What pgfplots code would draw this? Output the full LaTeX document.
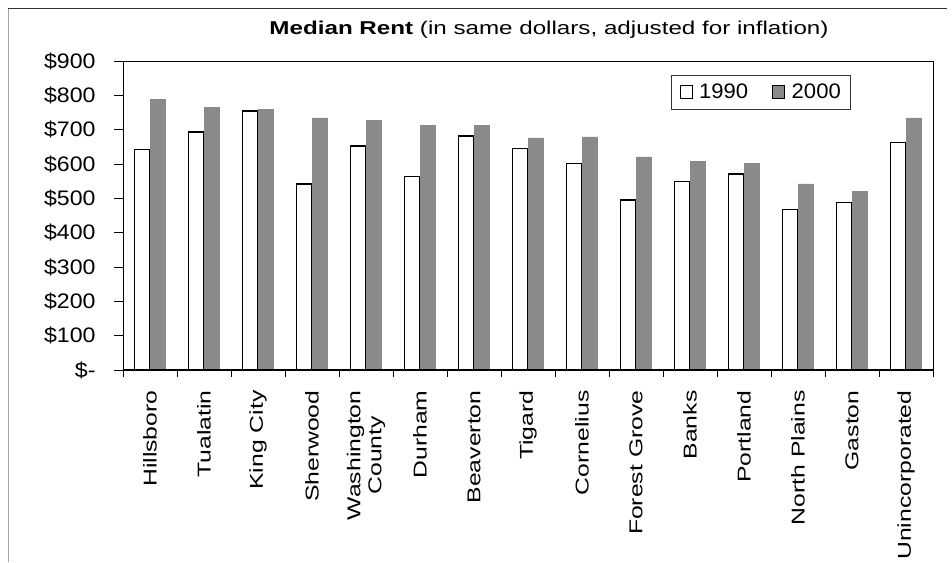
\documentclass[border=0pt]{standalone}
\usepackage{fontspec}
\setmainfont{Liberation Sans}
\newfontfamily\titlefont[FakeStretch=1.3]{Liberation Sans}
\newfontfamily\catfont[FakeStretch=1.33]{Liberation Sans}
\newfontfamily\tickfont[FakeStretch=1.1]{Liberation Sans}
\newfontfamily\legfont[FakeStretch=1.05]{Liberation Sans}
\usepackage{pgfplots}
\pgfplotsset{compat=1.18}
\definecolor{bargray}{RGB}{138,138,138}
\begin{document}
\begin{tikzpicture}
\useasboundingbox (0,0) rectangle (952pt,562pt);
\draw[gray!70, line width=0.8pt] (8pt,0pt) -- (8pt,554pt);
\draw[black!80, line width=0.8pt] (8pt,554pt) -- (947pt,554pt);
\node[font={\titlefont\fontsize{18.6}{22}\selectfont}] at (549pt,532pt) {\textbf{Median Rent} (in same dollars, adjusted for inflation)};
\begin{axis}[
  at={(123pt,192pt)}, anchor=south west,
  scale only axis, width=810pt, height=309pt,
  ybar=0pt, bar width=15.5pt,
  xmin=-0.5, xmax=14.5, ymin=0, ymax=900,
  axis line style={black, line width=0.8pt},
  xtick={0,...,14},
  xticklabels={Hillsboro,Tualatin,King City,Sherwood,Washington\\County,Durham,Beaverton,Tigard,Cornelius,Forest Grove,Banks,Portland,North Plains,Gaston,Unincorporated},
  major x tick style={draw=none},
  minor xtick={-0.5,0.5,...,14.5},
  minor x tick style={black, line width=0.8pt},
  minor tick length=7pt,
  tick align=outside, tick pos=left,
  xticklabel style={rotate=90, anchor=east, align=center, font={\catfont\fontsize{18.6}{21}\selectfont}, xshift=-8pt},
  ytick={0,100,...,900},
  yticklabels={\$-,\$100,\$200,\$300,\$400,\$500,\$600,\$700,\$800,\$900},
  major y tick style={black, line width=0.8pt},
  major tick length=9pt,
  yticklabel style={font={\tickfont\fontsize{21}{24}\selectfont}, xshift=-15pt},
  legend style={at={(0.677,0.955)}, anchor=north west, draw=black!80, line width=0.6pt,
    font={\legfont\fontsize{21}{24}\selectfont}, inner xsep=8pt, inner ysep=7pt,
    /tikz/every even column/.append style={column sep=22pt}},
  legend columns=2,
  legend image code/.code={\draw[#1, draw=black, line width=1pt] (0pt,-6pt) rectangle (12pt,7pt); \path[draw=none, fill=none] (0pt,0pt) -- (17pt,0pt);},
]
\addplot[fill=white, draw=black, line width=1.6pt] coordinates {
 (0,642) (1,693) (2,754) (3,541) (4,652) (5,564) (6,681) (7,645) (8,601) (9,496) (10,549) (11,571) (12,467) (13,488) (14,663)};
\addplot[fill=bargray, draw=bargray, line width=0.5pt] coordinates {
 (0,788) (1,766) (2,759) (3,734) (4,727) (5,712) (6,712) (7,676) (8,679) (9,621) (10,607) (11,601) (12,542) (13,520) (14,734)};
\legend{1990,2000}
\draw[black, line width=2pt] (rel axis cs:0,1) -- (rel axis cs:0,0) -- (rel axis cs:1,0);
\end{axis}
\end{tikzpicture}
\end{document}
